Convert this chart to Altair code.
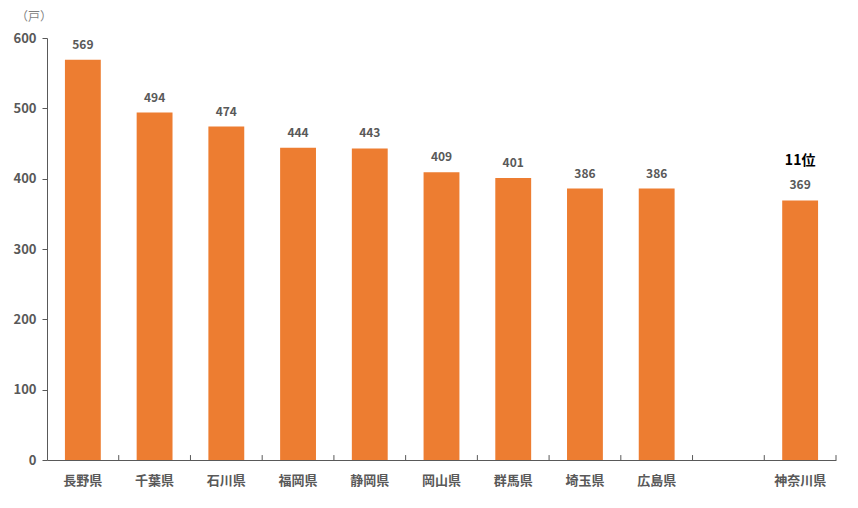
import altair as alt
import pandas as pd

categories = ["長野県", "千葉県", "石川県", "福岡県", "静岡県", "岡山県", "群馬県", "埼玉県", "広島県", " ", "神奈川県"]
values = [569, 494, 474, 444, 443, 409, 401, 386, 386, None, 369]
rank_note = {"神奈川県": "11位"}

df = pd.DataFrame({"pref": categories, "value": values})
df["note"] = df["pref"].map(rank_note).fillna("")
bars_df = df.dropna(subset=["value"])
note_df = df[df["note"] != ""]

FONT = "Noto Sans CJK JP"
GRAY = "#595959"

xscale = alt.Scale(domain=categories, paddingInner=0.5, paddingOuter=0.25)
yscale = alt.Scale(domain=[0, 600])

base = alt.Chart(bars_df)

bars = base.mark_bar(color="#ED7D31").encode(
    x=alt.X("pref:N", scale=xscale, sort=categories, title=None,
            axis=alt.Axis(labelAngle=0, ticks=False, labelPadding=14, labelFontSize=13,
                          labelFontWeight="bold", labelColor=GRAY, labelFont=FONT,
                          domainColor=GRAY, domainWidth=1)),
    y=alt.Y("value:Q", scale=yscale, title=None,
            axis=alt.Axis(values=[0, 100, 200, 300, 400, 500, 600], grid=False,
                          tickSize=5, tickColor=GRAY, domainColor=GRAY,
                          labelFontSize=13, labelFontWeight="bold", labelColor=GRAY,
                          labelFont=FONT, labelPadding=6)),
)

labels = base.mark_text(baseline="bottom", dy=-8, font=FONT, fontSize=12,
                        fontWeight="bold", color=GRAY).encode(
    x=alt.X("pref:N", scale=xscale, sort=categories),
    y=alt.Y("value:Q", scale=yscale),
    text=alt.Text("value:Q", format="d"),
)

note = alt.Chart(note_df).mark_text(baseline="bottom", dy=-32, font=FONT, fontSize=14,
                                    fontWeight="bold", color="#000000").encode(
    x=alt.X("pref:N", scale=xscale, sort=categories),
    y=alt.Y("value:Q", scale=yscale),
    text="note:N",
)

half_band = 789 / 11 / 2
tick_df = pd.DataFrame({"pref": categories[1:], "y0": [0] * 10, "y1": [7] * 10})
ticks = alt.Chart(tick_df).mark_rule(color=GRAY, strokeWidth=1, xOffset=-half_band).encode(
    x=alt.X("pref:N", scale=xscale, sort=categories),
    y=alt.Y("y0:Q", scale=yscale),
    y2="y1:Q",
)
end_df = pd.DataFrame({"pref": [categories[-1]], "y0": [0], "y1": [7]})
end_tick = alt.Chart(end_df).mark_rule(color=GRAY, strokeWidth=1, xOffset=half_band).encode(
    x=alt.X("pref:N", scale=xscale, sort=categories),
    y=alt.Y("y0:Q", scale=yscale),
    y2="y1:Q",
)

unit = alt.Chart(pd.DataFrame({"t": ["（戸）"]})).mark_text(
    font=FONT, fontSize=12, color="#7f7f7f", align="left", baseline="middle",
).encode(text="t:N", x=alt.value(-31), y=alt.value(-21))

chart = alt.layer(bars, labels, note, ticks, end_tick, unit).properties(
    width=789, height=422,
    autosize=alt.AutoSizeParams(type="none"),
    padding={"left": 39, "top": 30, "right": 8, "bottom": 40},
    background="white",
).configure_view(stroke=None, strokeWidth=0)

chart.save("out.html", embed_options={"renderer": "svg", "actions": False})
